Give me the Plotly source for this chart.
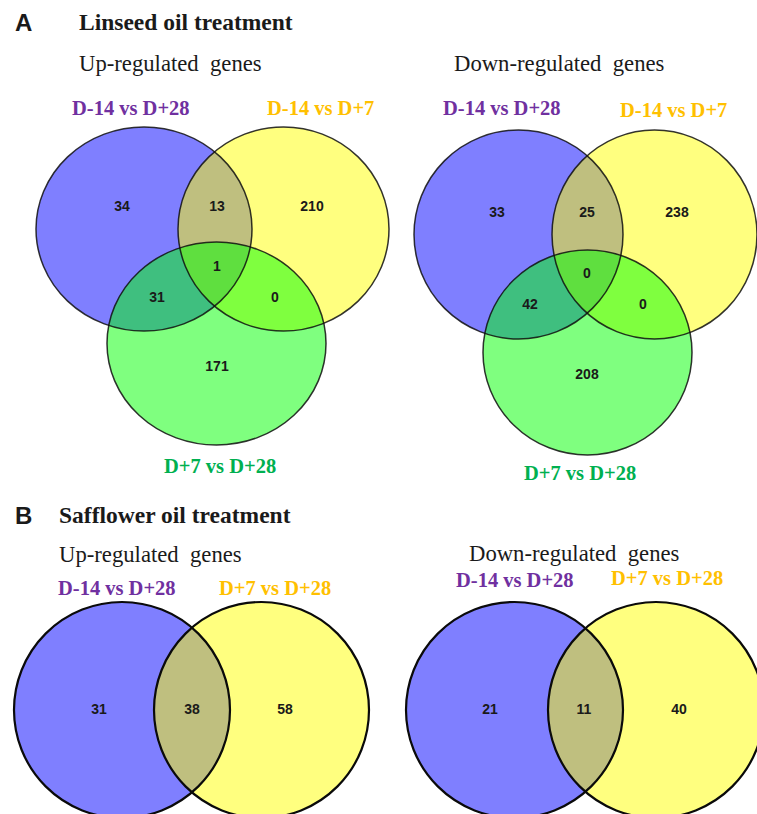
import plotly.graph_objects as go

# ---- data -----------------------------------------------------------------
# Linseed oil treatment: three comparisons
linseed_sets = ["D-14 vs D+28", "D-14 vs D+7", "D+7 vs D+28"]
# region order: only1, 1&2, only2, 1&2&3, 1&3, 2&3, only3
linseed_up = [34, 13, 210, 1, 31, 0, 171]
linseed_down = [33, 25, 238, 0, 42, 0, 208]

# Safflower oil treatment: two comparisons
safflower_sets = ["D-14 vs D+28", "D+7 vs D+28"]
# region order: only1, 1&2, only2
safflower_up = [31, 38, 58]
safflower_down = [21, 11, 40]

# ---- styling / layout -------------------------------------------------------
W, H = 757, 814
FILLS = ["rgba(0,0,255,0.5)", "rgba(255,255,0,0.5)", "rgba(0,255,0,0.5)"]
SET_COLORS = ["#7030A0", "#FFC000", "#00B050"]
SERIF = "Liberation Serif"
SANS = "Liberation Sans"

# ellipse geometry (cx, cy, rx, ry) for every panel, in page pixels
panels = [
    dict(values=linseed_up, sets=linseed_sets, outline=1.5, edge="rgba(15,15,15,0.85)",
         ellipses=[(144, 229, 108, 102), (283.5, 229, 105.5, 102), (216.5, 343.5, 109.5, 101.5)],
         spots=[(122, 207), (217, 207), (312, 207), (217, 267), (157, 298), (275, 298), (217, 367)],
         set_pos=[(131, 108), (320, 108), (220, 466)]),
    dict(values=linseed_down, sets=linseed_sets, outline=1.5, edge="rgba(15,15,15,0.85)",
         ellipses=[(518.5, 234.5, 104.5, 104.5), (654.5, 234.5, 102.5, 104.5), (587.5, 352.5, 104.5, 102.5)],
         spots=[(497, 213), (587, 213), (677, 213), (587, 274), (530, 305), (643, 305), (587, 375)],
         set_pos=[(502, 108), (673, 110), (580, 473)]),
    dict(values=safflower_up, sets=safflower_sets, outline=2.2, edge="#0a0a0a",
         ellipses=[(122, 710, 108, 108), (261.5, 710, 107.5, 108)],
         spots=[(99, 710), (192, 710), (285, 710)],
         set_pos=[(117, 588), (275, 588)]),
    dict(values=safflower_down, sets=safflower_sets, outline=2.2, edge="#0a0a0a",
         ellipses=[(514.5, 710, 108.5, 108), (656, 710, 108, 108)],
         spots=[(490, 710), (584, 710), (679, 710)],
         set_pos=[(515, 580), (667, 578)]),
]

headings = [
    dict(text="<b>A</b>", x=13, y=22, font=SANS, size=24),
    dict(text="<b>Linseed oil treatment</b>", x=77, y=22, font=SERIF, size=23.5),
    dict(text="Up-regulated  genes", x=77, y=63, font=SERIF, size=22.7),
    dict(text="Down-regulated  genes", x=452, y=63, font=SERIF, size=22.7),
    dict(text="<b>B</b>", x=13, y=515, font=SANS, size=24),
    dict(text="<b>Safflower oil treatment</b>", x=57, y=515, font=SERIF, size=23.5),
    dict(text="Up-regulated  genes", x=57, y=554, font=SERIF, size=22.7),
    dict(text="Down-regulated  genes", x=467, y=553, font=SERIF, size=22.7),
]

fig = go.Figure()
shapes = []
annotations = []

for p in panels:
    # fills first, in set order, so overlaps blend
    for (cx, cy, rx, ry), fill in zip(p["ellipses"], FILLS):
        shapes.append(dict(type="circle", xref="x", yref="y",
                           x0=cx - rx, x1=cx + rx, y0=cy - ry, y1=cy + ry,
                           fillcolor=fill, line=dict(width=0), layer="below"))
    # then outlines on top of all fills
    for (cx, cy, rx, ry) in p["ellipses"]:
        shapes.append(dict(type="circle", xref="x", yref="y",
                           x0=cx - rx, x1=cx + rx, y0=cy - ry, y1=cy + ry,
                           fillcolor="rgba(0,0,0,0)",
                           line=dict(color=p["edge"], width=p["outline"]),
                           layer="below"))
    # region counts
    fig.add_trace(go.Scatter(
        x=[s[0] for s in p["spots"]], y=[s[1] for s in p["spots"]],
        mode="text", text=[f"<b>{v}</b>" for v in p["values"]],
        textfont=dict(family=SANS, size=14, color="#1a1a1a"),
        hoverinfo="skip", showlegend=False))
    # set names
    for name, (x, y), col in zip(p["sets"], p["set_pos"], SET_COLORS):
        if len(p["sets"]) == 2 and name == "D+7 vs D+28":
            col = SET_COLORS[1]
        annotations.append(dict(text=f"<b>{name}</b>", x=x, y=y, xref="x", yref="y",
                                showarrow=False, xanchor="center", yanchor="middle",
                                font=dict(family=SERIF, size=20.5, color=col)))

for h in headings:
    annotations.append(dict(text=h["text"], x=h["x"], y=h["y"], xref="x", yref="y",
                            showarrow=False, xanchor="left", yanchor="middle",
                            font=dict(family=h["font"], size=h["size"], color="#1a1a1a")))

fig.update_layout(
    width=W, height=H,
    margin=dict(l=0, r=0, t=0, b=0),
    paper_bgcolor="white", plot_bgcolor="white",
    shapes=shapes, annotations=annotations,
    xaxis=dict(range=[0, W], visible=False, fixedrange=True),
    yaxis=dict(range=[H, 0], visible=False, fixedrange=True),
    showlegend=False,
)

fig.write_html("out.html", config={"displayModeBar": False})
